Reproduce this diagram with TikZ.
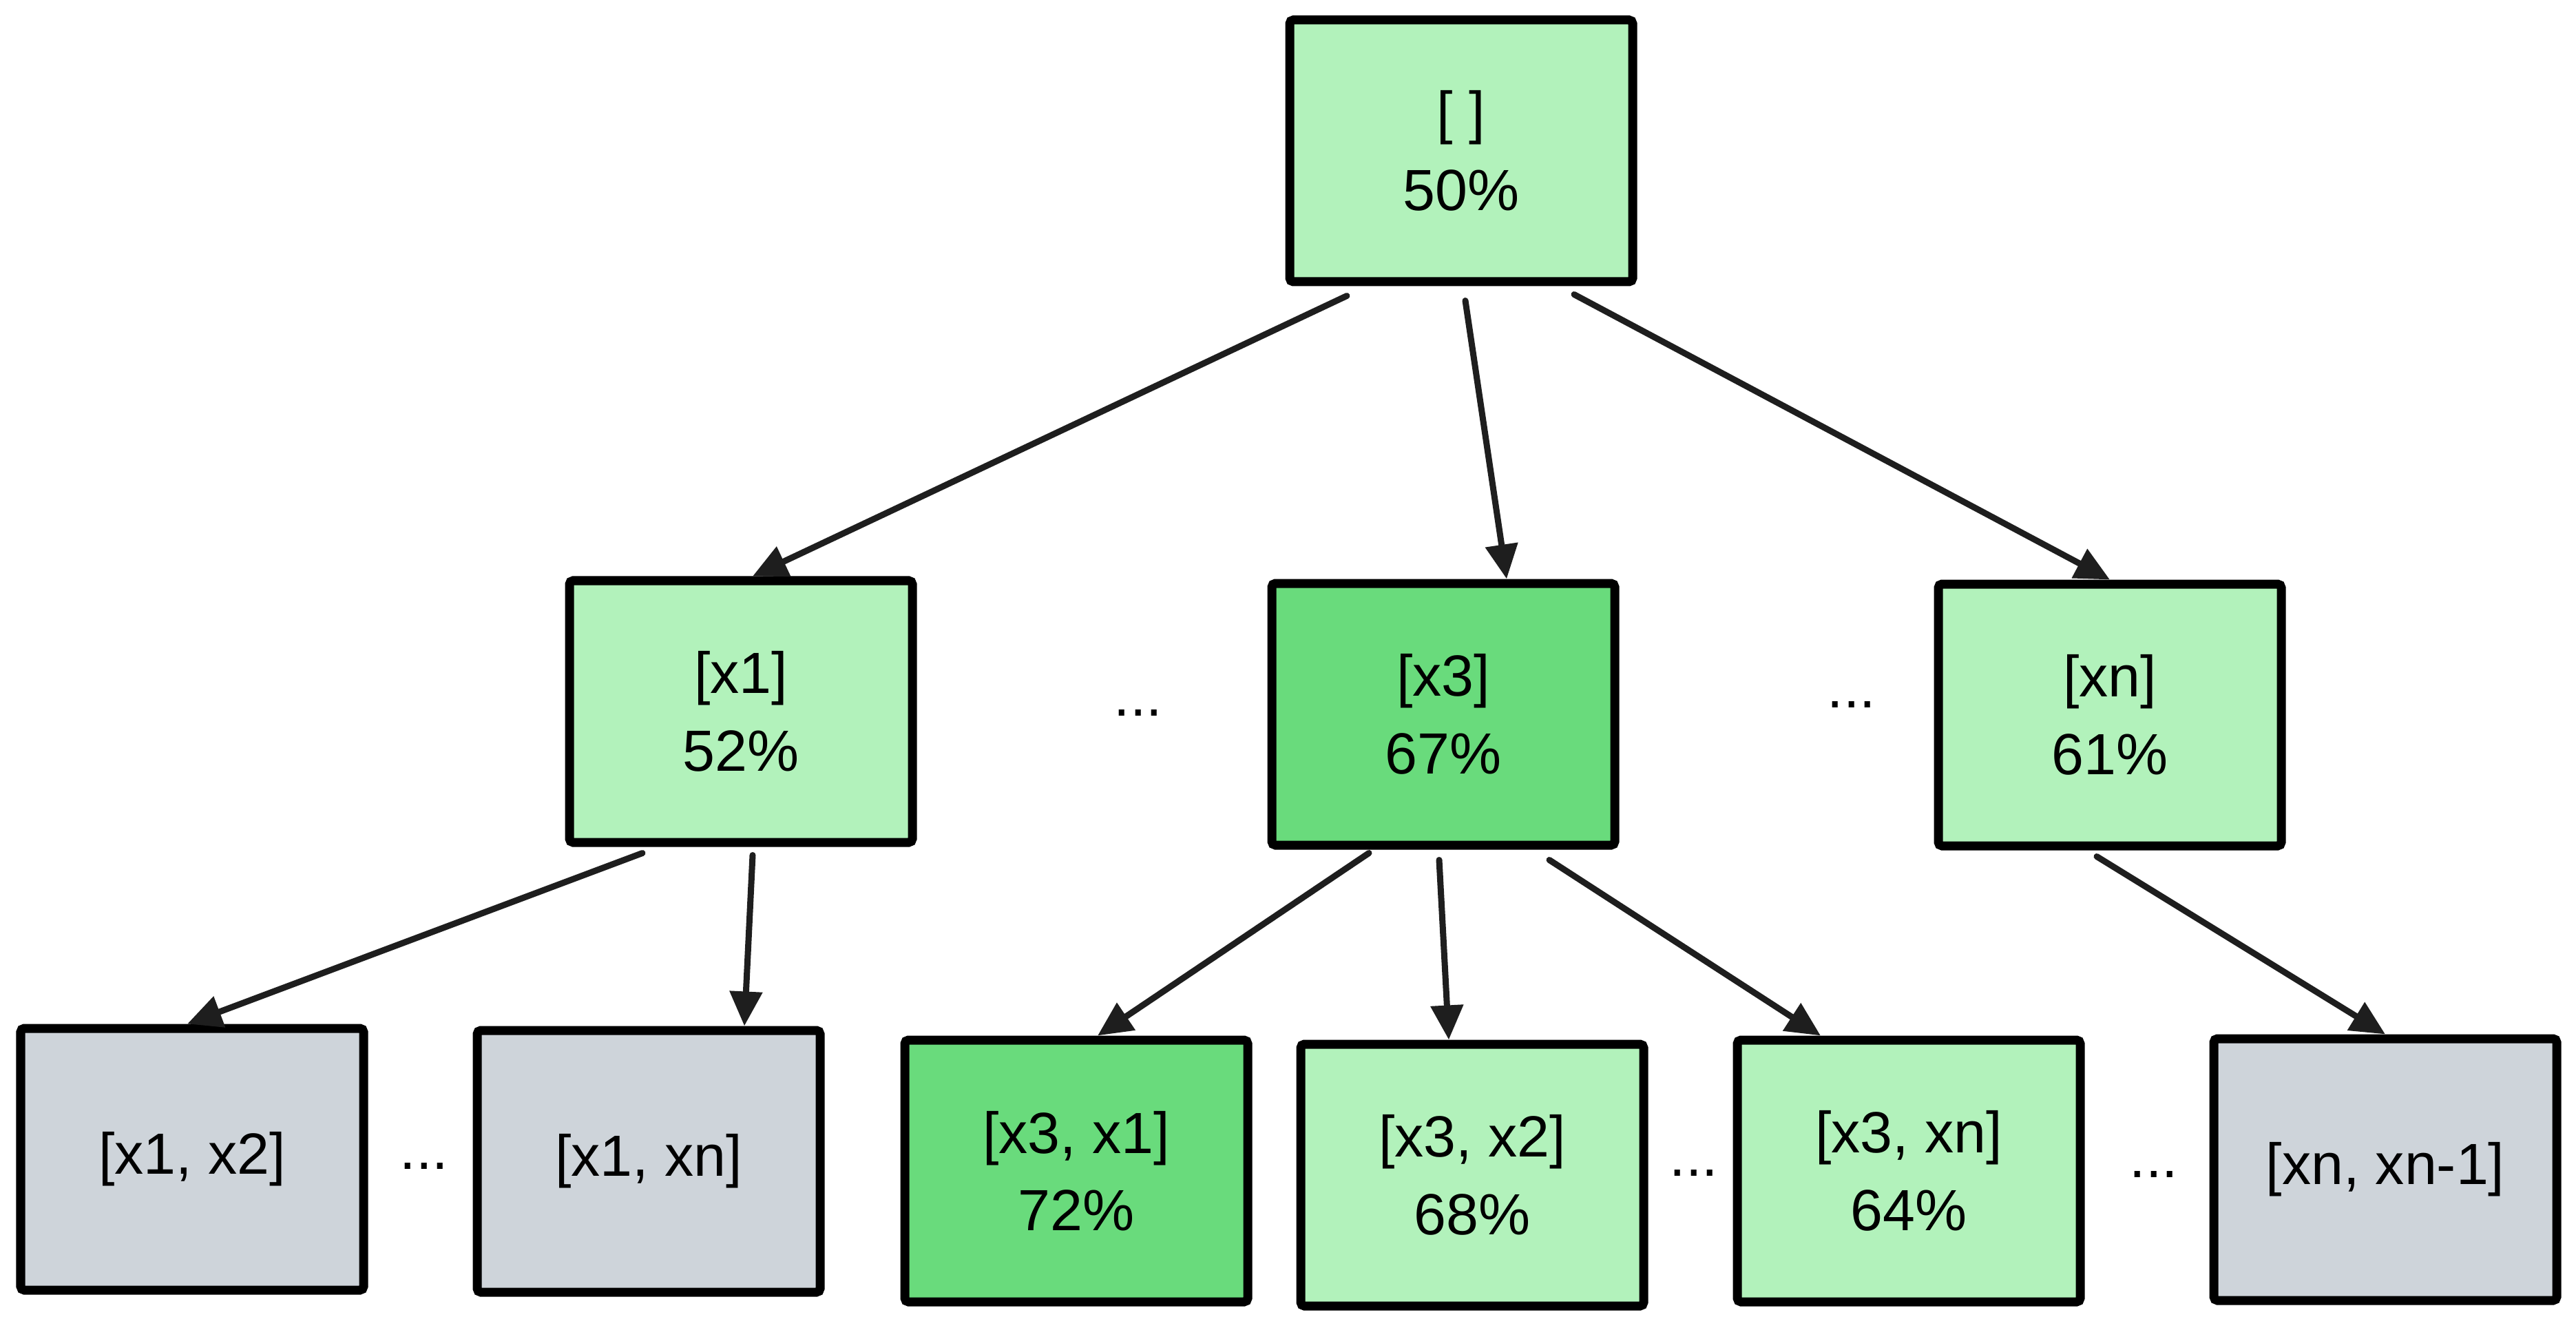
\documentclass[tikz,border=0pt]{standalone}
\usepackage{fontspec}
\setmainfont{Liberation Sans}
\usetikzlibrary{arrows.meta,calc}
\definecolor{lightgreen}{HTML}{B2F2BB}
\definecolor{darkgreen}{HTML}{69DB7C}
\definecolor{lightgrey}{HTML}{CED4DA}
\definecolor{ink}{HTML}{1E1E1E}
\tikzset{
	cell/.style={draw=black, line width=0.13cm, rounded corners=1.5pt, minimum width=4.98cm, minimum height=3.8cm, inner sep=0pt, align=center, font=\fontsize{24}{32}\selectfont},
	okcell/.style={cell, fill=lightgreen},
	bestcell/.style={cell, fill=darkgreen},
	deadcell/.style={cell, fill=lightgrey},
	gap/.style={anchor=base, font=\fontsize{24}{32}\selectfont},
	link/.style={draw=ink, line width=0.09cm, line cap=round, -{Triangle[length=0.5cm,width=0.46cm]}}
}
\begin{document}
\begin{tikzpicture}
	\useasboundingbox (0,0) rectangle (37.41,19.27);

	\node[okcell] (root) at (21.22,17.08) {[ ]\\50\%};

	\node[okcell] (x1) at (10.76,8.94) {[x1]\\52\%};
	\node[bestcell] (x3) at (20.96,8.90) {[x3]\\67\%};
	\node[okcell] (xn) at (30.64,8.89) {[xn]\\61\%};

	\node[deadcell] (x1x2) at (2.79,2.44) {[x1, x2]};
	\node[deadcell] (x1xn) at (9.42,2.41) {[x1, xn]};
	\node[bestcell] (x3x1) at (15.63,2.27) {[x3, x1]\\72\%};
	\node[okcell] (x3x2) at (21.38,2.21) {[x3, x2]\\68\%};
	\node[okcell] (x3xn) at (27.72,2.27) {[x3, xn]\\64\%};
	\node[deadcell] (xnxm) at (34.64,2.29) {[xn, xn-1]};

	\node[gap] (dotsa) at (16.53,8.88) {...};
	\node[gap] (dotsb) at (26.89,9.00) {...};
	\node[gap] (dotsc) at (6.16,2.30) {...};
	\node[gap] (dotsd) at (24.60,2.20) {...};
	\node[gap] (dotse) at (31.28,2.18) {...};

	\draw[link] ($(root.south)+(-1.66,-0.14)$) -- ($(x1.north)+(0.17,0)$);
	\draw[link] ($(root.south)+(0.06,-0.21)$) -- ($(x3.north)+(0.92,0)$);
	\draw[link] ($(root.south)+(1.64,-0.12)$) -- (xn.north);

	\draw[link] ($(x1.south)+(-1.43,-0.09)$) -- ($(x1x2.north)+(-0.07,0)$);
	\draw[link] ($(x1.south)+(0.17,-0.12)$) -- ($(x1xn.north)+(1.39,0)$);

	\draw[link] ($(x3.south)+(-1.08,-0.05)$) -- ($(x3x1.north)+(0.31,0)$);
	\draw[link] ($(x3.south)+(-0.06,-0.15)$) -- ($(x3x2.north)+(-0.34,0)$);
	\draw[link] ($(x3.south)+(1.54,-0.15)$) -- ($(x3xn.north)+(-1.28,0)$);

	\draw[link] ($(xn.south)+(-0.19,-0.09)$) -- (xnxm.north);
\end{tikzpicture}
\end{document}
